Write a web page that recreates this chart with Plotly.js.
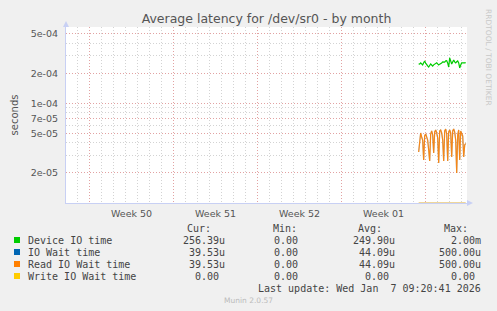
<!DOCTYPE html>
<html><head><meta charset="utf-8">
<script src="https://cdn.plot.ly/plotly-3.0.1.min.js"></script>
<style>html,body{margin:0;padding:0;background:#f0f0f0;}#chart{width:497px;height:311px;}</style>
</head><body><div id="chart"></div>
<script>
const times = [
 "2026-01-04 10:00","2026-01-04 12:00","2026-01-04 14:00","2026-01-04 16:00","2026-01-04 18:00","2026-01-04 20:00","2026-01-04 22:00",
 "2026-01-05 00:00","2026-01-05 02:00","2026-01-05 04:00","2026-01-05 06:00","2026-01-05 08:00","2026-01-05 10:00","2026-01-05 12:00",
 "2026-01-05 14:00","2026-01-05 16:00","2026-01-05 18:00","2026-01-05 20:00","2026-01-05 22:00",
 "2026-01-06 00:00","2026-01-06 02:00","2026-01-06 04:00","2026-01-06 06:00","2026-01-06 08:00","2026-01-06 10:00","2026-01-06 12:00",
 "2026-01-06 14:00","2026-01-06 16:00","2026-01-06 18:00","2026-01-06 20:00","2026-01-06 22:00",
 "2026-01-07 00:00","2026-01-07 02:00","2026-01-07 04:00","2026-01-07 06:00","2026-01-07 08:00","2026-01-07 10:00","2026-01-07 12:00",
 "2026-01-07 14:00","2026-01-07 16:00","2026-01-07 18:00","2026-01-07 20:00","2026-01-07 22:00",
 "2026-01-08 00:00","2026-01-08 02:00","2026-01-08 04:00","2026-01-08 06:00","2026-01-08 08:00"
];
const deviceIO = [2.48e-4,2.47e-4,2.54e-4,2.49e-4,2.42e-4,2.55e-4,2.66e-4,2.53e-4,2.41e-4,2.37e-4,
 2.31e-4,2.43e-4,2.48e-4,2.42e-4,2.36e-4,2.43e-4,2.49e-4,2.54e-4,2.55e-4,2.48e-4,
 2.42e-4,2.47e-4,2.49e-4,2.54e-4,2.60e-4,2.61e-4,2.59e-4,2.66e-4,2.67e-4,2.53e-4,
 2.31e-4,2.85e-4,2.66e-4,2.48e-4,2.60e-4,2.72e-4,2.60e-4,2.54e-4,2.61e-4,2.66e-4,
 2.54e-4,2.26e-4,2.42e-4,2.54e-4,2.55e-4,2.53e-4,2.54e-4,2.56e-4];
const ioWait = [3.25e-5,4.28e-5,5.04e-5,4.59e-5,4.28e-5,2.70e-5,4.70e-5,4.92e-5,4.49e-5,4.28e-5,
 3.40e-5,2.64e-5,4.92e-5,5.28e-5,4.81e-5,3.18e-5,5.15e-5,5.40e-5,5.04e-5,4.49e-5,
 2.52e-5,5.28e-5,5.40e-5,5.04e-5,4.28e-5,2.64e-5,5.28e-5,5.52e-5,4.92e-5,2.64e-5,
 5.15e-5,5.40e-5,5.04e-5,2.89e-5,5.28e-5,5.52e-5,5.15e-5,4.28e-5,2.00e-5,4.81e-5,
 5.40e-5,2.70e-5,5.28e-5,5.04e-5,4.70e-5,2.89e-5,3.82e-5,3.95e-5];
const readIOWait = ioWait.slice();
const writeIOWait = [0,0,0,0,0,0,0,0,0,0,0,0,0,0,0,0,0,0,0,0,0,0,0,0,0,0,0,0,0,0,0,0,0,0,0,0,0,0,0,0,0,0,0,0,0,0,0,0];

const seriesNames = ["Device IO time","IO Wait time","Read IO Wait time","Write IO Wait time"];
const seriesColors = ["#00cc00","#0066b3","#ff8000","#ffcc00"];
const curVals = ["256.39u","39.53u","39.53u","0.00"];
const minVals = ["0.00","0.00","0.00","0.00"];
const avgVals = ["249.90u","44.09u","44.09u","0.00"];
const maxVals = ["2.00m","500.00u","500.00u","0.00"];

const weekStarts = ["2025-12-08","2025-12-15","2025-12-22","2025-12-29","2026-01-05"];
const weekMids = ["2025-12-11 12:00","2025-12-18 12:00","2025-12-25 12:00","2026-01-01 12:00"];
const weekLabels = ["Week 50","Week 51","Week 52","Week 01"];
const yTickVals = [2e-5,5e-5,7e-5,1e-4,2e-4,5e-4];
const yTickText = ["2e-05","5e-05","7e-05","1e-04","2e-04","5e-04"];
const yMinorVals = [1e-5,2e-5,3e-5,4e-5,5e-5,6e-5,7e-5,8e-5,9e-5,1e-4,2e-4,3e-4,4e-4,5e-4,6e-4];

const W = 497, H = 311, L = 66, R = 467, T = 27, B = 203;
const px = x => (x - L) / (R - L);
const py = y => (B - y) / (B - T);

const traces = [
  {x: times, y: deviceIO, type: "scatter", mode: "lines", line: {color: seriesColors[0], width: 1.2}, name: seriesNames[0]},
  {x: times, y: ioWait, type: "scatter", mode: "lines", line: {color: seriesColors[1], width: 1.2}, opacity: 0.35, name: seriesNames[1]},
  {x: times, y: readIOWait, type: "scatter", mode: "lines", line: {color: seriesColors[2], width: 1.2}, opacity: 0.9, name: seriesNames[2]},
  {x: times, y: writeIOWait, type: "scatter", mode: "lines", line: {color: "#e8c878", width: 1.5}, yaxis: "y2", name: seriesNames[3]}
];

const mono = "DejaVu Sans Mono";
const txtColor = "#444";
const ann = [];
weekMids.forEach((d, i) => ann.push({x: d, xref: "x", y: 0, yref: "paper", yanchor: "top", yshift: -3,
  text: weekLabels[i], showarrow: false, font: {family: "DejaVu Sans", size: 9.5, color: "#555"}}));
const colX = [227, 306, 397, 483];
const headers = ["Cur:", "Min:", "Avg:", "Max:"];
const headerX = [213, 299, 384, 470];
headers.forEach((h, i) => ann.push({x: px(headerX[i]), xref: "paper", y: py(228), yref: "paper", xanchor: "right", yanchor: "middle",
  text: h, showarrow: false, font: {family: mono, size: 10, color: txtColor}}));
const rowY = [240, 252, 264, 276];
const shapes = [];
seriesNames.forEach((n, i) => {
  ann.push({x: px(26), xref: "paper", y: py(rowY[i]), yref: "paper", xanchor: "left", yanchor: "middle",
    text: n, showarrow: false, font: {family: mono, size: 10, color: txtColor}});
  [curVals, minVals, avgVals, maxVals].forEach((arr, j) => {
    const shift = (arr[i].endsWith("u") || arr[i].endsWith("m")) ? 0 : -6;
    ann.push({x: px(colX[j] + shift), xref: "paper", y: py(rowY[i]), yref: "paper", xanchor: "right", yanchor: "middle",
      text: arr[i], showarrow: false, font: {family: mono, size: 10, color: txtColor}});
  });
  shapes.push({type: "rect", xref: "paper", yref: "paper", x0: px(14), x1: px(20), y0: py(rowY[i] + 3), y1: py(rowY[i] - 3),
    fillcolor: seriesColors[i], line: {width: 0}});
});
ann.push({x: px(483), xref: "paper", y: py(288), yref: "paper", xanchor: "right", yanchor: "middle",
  text: "Last update: Wed Jan \u00a07 09:20:41 2026", showarrow: false, font: {family: mono, size: 10, color: txtColor}});
ann.push({x: px(248), xref: "paper", y: py(300), yref: "paper", xanchor: "center", yanchor: "middle",
  text: "Munin 2.0.57", showarrow: false, font: {family: "DejaVu Sans", size: 7.5, color: "#bbb"}});
ann.push({x: px(489), xref: "paper", y: py(58), yref: "paper", xanchor: "center", yanchor: "middle", textangle: 90,
  text: "RRDTOOL / TOBI OETIKER", showarrow: false, font: {family: "DejaVu Sans", size: 7.5, color: "#c8c8c8"}});
shapes.push({type: "path", xref: "paper", yref: "paper",
  path: `M ${px(63)} ${py(27)} L ${px(69)} ${py(27)} L ${px(66)} ${py(21)} Z`, fillcolor: "#c8d0f4", line: {width: 0}});
shapes.push({type: "path", xref: "paper", yref: "paper",
  path: `M ${px(467)} ${py(200)} L ${px(467)} ${py(206)} L ${px(473)} ${py(203)} Z`, fillcolor: "#c8d0f4", line: {width: 0}});

const pink = "rgba(230,150,150,0.8)";
const grey = "rgba(200,200,200,0.8)";
const dash = "1px,2px";
const layout = {
  width: W, height: H,
  paper_bgcolor: "#f0f0f0", plot_bgcolor: "#ffffff",
  margin: {l: L, r: W - R, t: T, b: H - B, pad: 0},
  showlegend: false,
  title: {text: "Average latency for /dev/sr0 - by month", x: 0.5, xref: "paper", xanchor: "center", y: 1 - 19 / H, yanchor: "middle",
    font: {family: "DejaVu Sans", size: 12.5, color: "#555"}},
  xaxis: {type: "date", range: ["2025-12-06 01:25", "2026-01-08 10:35"], tickmode: "array", tickvals: weekStarts,
    showticklabels: false, ticks: "", showgrid: true, gridcolor: pink, griddash: dash, gridwidth: 1,
    showline: true, linecolor: "#c8d0f4", linewidth: 1, zeroline: false,
    minor: {dtick: 86400000, tick0: "2025-12-08", showgrid: true, gridcolor: grey, griddash: dash, gridwidth: 1, ticks: ""}},
  yaxis: {type: "log", range: [-5, -3.235], tickmode: "array", tickvals: yTickVals, ticktext: yTickText,
    ticks: "outside", ticklen: 5, tickcolor: "rgba(0,0,0,0)", tickfont: {family: "DejaVu Sans", size: 9.5, color: "#555"},
    showgrid: true, gridcolor: pink, griddash: dash, gridwidth: 1,
    showline: true, linecolor: "#c8d0f4", linewidth: 1, zeroline: false,
    minor: {tickmode: "array", tickvals: yMinorVals, showgrid: true, gridcolor: grey, griddash: dash, gridwidth: 1, ticks: ""},
    title: {text: "seconds", standoff: 10, font: {family: "DejaVu Sans", size: 10, color: "#555"}}},
  yaxis2: {overlaying: "y", range: [0, 1], visible: false, fixedrange: true},
  annotations: ann,
  shapes: shapes
};
Plotly.newPlot("chart", traces, layout, {staticPlot: true, displayModeBar: false});
</script></body></html>
